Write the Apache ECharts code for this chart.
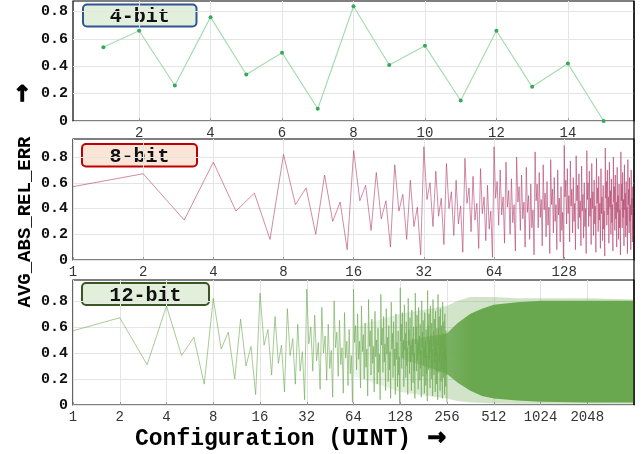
<!DOCTYPE html>
<html><head><meta charset="utf-8">
<script src="https://cdn.jsdelivr.net/npm/echarts@6.0.0/dist/echarts.min.js"></script>
<style>html,body{margin:0;padding:0;background:#fff}#c{width:644px;height:454px}</style>
</head><body><div id="c"></div>
<script>
// ---- data ----
const yTicks = [0, 0.2, 0.4, 0.6, 0.8];
const x4Ticks = [2, 4, 6, 8, 10, 12, 14];
const x8Ticks = [1, 2, 4, 8, 16, 32, 64, 128];
const x12Ticks = [1, 2, 4, 8, 16, 32, 64, 128, 256, 512, 1024, 2048];
const panelNames = ['4-bit', '8-bit', '12-bit'];

const err4 = [0.54,0.66,0.26,0.76,0.34,0.50,0.09,0.84,0.41,0.55,0.15,0.66,0.25,0.42,0.00];

const err8 = [
0.57,0.67,0.31,0.76,0.38,0.52,0.16,0.82,0.43,0.56,0.20,0.66,0.30,0.45,0.08,0.85,
0.46,0.58,0.23,0.68,0.32,0.46,0.10,0.74,0.38,0.51,0.16,0.62,0.26,0.41,0.04,0.88,
0.47,0.60,0.26,0.69,0.34,0.48,0.12,0.75,0.40,0.53,0.19,0.62,0.28,0.42,0.06,0.79,
0.44,0.56,0.22,0.65,0.31,0.44,0.09,0.71,0.36,0.49,0.15,0.58,0.24,0.38,0.02,0.88,
0.48,0.61,0.27,0.70,0.35,0.49,0.13,0.76,0.41,0.54,0.20,0.63,0.29,0.43,0.07,0.80,
0.45,0.57,0.23,0.66,0.32,0.45,0.10,0.72,0.37,0.50,0.16,0.59,0.25,0.39,0.04,0.84,
0.46,0.59,0.25,0.68,0.33,0.47,0.11,0.74,0.39,0.52,0.18,0.61,0.27,0.41,0.05,0.78,
0.43,0.55,0.21,0.64,0.30,0.43,0.08,0.70,0.35,0.48,0.14,0.57,0.23,0.37,0.01,0.89,
0.49,0.62,0.28,0.71,0.36,0.50,0.14,0.77,0.42,0.55,0.21,0.64,0.30,0.44,0.08,0.81,
0.46,0.58,0.24,0.67,0.33,0.46,0.11,0.73,0.38,0.51,0.17,0.60,0.26,0.40,0.05,0.85,
0.47,0.60,0.26,0.69,0.34,0.48,0.12,0.75,0.40,0.53,0.19,0.62,0.28,0.42,0.06,0.79,
0.44,0.56,0.22,0.65,0.31,0.44,0.09,0.71,0.36,0.49,0.15,0.58,0.24,0.38,0.03,0.87,
0.48,0.61,0.27,0.70,0.35,0.49,0.13,0.76,0.41,0.54,0.20,0.63,0.29,0.43,0.07,0.80,
0.45,0.57,0.23,0.66,0.32,0.45,0.10,0.72,0.37,0.50,0.16,0.59,0.25,0.39,0.04,0.84,
0.46,0.59,0.25,0.68,0.33,0.47,0.11,0.74,0.39,0.52,0.18,0.61,0.27,0.41,0.05,0.78,
0.43,0.55,0.21,0.64,0.30,0.43,0.08,0.70,0.35,0.48,0.14,0.57,0.23,0.37,0.00];

const err12 = [
0.57,0.67,0.31,0.76,0.38,0.52,0.16,0.82,0.43,0.56,0.20,0.66,0.30,0.45,0.08,0.86,
0.46,0.58,0.23,0.68,0.32,0.46,0.10,0.74,0.38,0.51,0.16,0.62,0.26,0.41,0.04,0.89,
0.47,0.60,0.26,0.69,0.34,0.48,0.12,0.75,0.40,0.53,0.19,0.62,0.28,0.42,0.06,0.80,
0.44,0.56,0.22,0.65,0.31,0.44,0.09,0.71,0.36,0.49,0.15,0.58,0.24,0.38,0.02,0.89,
0.48,0.61,0.27,0.70,0.35,0.49,0.13,0.76,0.41,0.54,0.20,0.63,0.29,0.43,0.07,0.81,
0.45,0.57,0.23,0.66,0.32,0.45,0.10,0.72,0.37,0.50,0.16,0.59,0.25,0.39,0.04,0.85,
0.46,0.59,0.25,0.68,0.33,0.47,0.11,0.74,0.39,0.52,0.18,0.61,0.27,0.41,0.05,0.79,
0.43,0.55,0.21,0.64,0.30,0.43,0.08,0.70,0.35,0.48,0.14,0.57,0.23,0.37,0.01,0.90,
0.49,0.62,0.28,0.71,0.36,0.50,0.14,0.77,0.42,0.55,0.21,0.64,0.30,0.44,0.08,0.82,
0.46,0.58,0.24,0.67,0.33,0.46,0.11,0.73,0.38,0.51,0.17,0.60,0.26,0.40,0.05,0.86,
0.47,0.60,0.26,0.69,0.34,0.48,0.12,0.75,0.40,0.53,0.19,0.62,0.28,0.42,0.06,0.80,
0.44,0.56,0.22,0.65,0.31,0.44,0.09,0.71,0.36,0.49,0.15,0.58,0.24,0.38,0.03,0.88,
0.48,0.61,0.27,0.70,0.35,0.49,0.13,0.76,0.41,0.54,0.20,0.63,0.29,0.43,0.07,0.81,
0.45,0.57,0.23,0.66,0.32,0.45,0.10,0.72,0.37,0.50,0.16,0.59,0.25,0.39,0.04,0.85,
0.46,0.59,0.25,0.68,0.33,0.47,0.11,0.74,0.39,0.52,0.18,0.61,0.27,0.41,0.05,0.79,
0.43,0.55,0.21,0.64,0.30,0.43,0.08,0.70,0.35,0.48,0.14,0.57,0.23,0.37,0.02];

// 12-bit dense region (too dense to read point by point): envelopes
const band12OuterX  = [64, 128, 255, 300, 362, 430, 512, 724, 1024, 2048, 4095];
const band12OuterLo = [0.22, 0.10, 0.05, 0.03, 0.02, 0.015, 0.012, 0.01, 0.01, 0.01, 0.01];
const band12OuterHi = [0.60, 0.70, 0.76, 0.80, 0.83, 0.83, 0.83, 0.82, 0.82, 0.82, 0.81];
const band12CoreX  = [128, 181, 255, 300, 362, 430, 512, 724, 1024, 2048, 4095];
const band12CoreLo = [0.36, 0.30, 0.24, 0.17, 0.11, 0.07, 0.05, 0.035, 0.025, 0.02, 0.02];
const band12CoreHi = [0.48, 0.52, 0.55, 0.63, 0.70, 0.74, 0.77, 0.79, 0.80, 0.80, 0.80];

// ---- chart ----
const chart = echarts.init(document.getElementById('c'), null, {renderer: 'canvas'});
const MONO = '"Liberation Mono", "Courier New", monospace';
const gridColor = '#e4e4e4';

function yAxis(idx, max) {
  return {
    type: 'value', gridIndex: idx, min: 0, max: max,
    minInterval: 0.2, maxInterval: 0.2,
    axisLine: {show: false},
    axisTick: {show: false, customValues: yTicks},
    splitLine: {show: true, lineStyle: {color: gridColor, width: 1}},
    axisLabel: {
      customValues: yTicks, margin: 5,
      fontFamily: MONO, fontWeight: 'bold', fontSize: 15, color: '#111',
      formatter: v => (v === 0 ? '0' : v.toFixed(1))
    }
  };
}
function xAxisCommon(idx, ticks) {
  return {
    gridIndex: idx,
    axisLine: {show: false},
    axisTick: {show: true, inside: true, length: 3, customValues: ticks, lineStyle: {color: '#999'}},
    splitLine: {show: true, lineStyle: {color: gridColor, width: 1}},
    axisLabel: {
      customValues: ticks, margin: 5,
      fontFamily: MONO, fontSize: 14, color: '#333',
      formatter: v => String(Math.round(v))
    }
  };
}

function bandSeries(xs, lo, hi, fill, z) {
  const pts = xs.map((x, i) => [x, lo[i], hi[i]]);
  return {
    type: 'custom', xAxisIndex: 2, yAxisIndex: 2, silent: true, z: z,
    data: pts, encode: {x: 0, y: [1, 2]},
    renderItem: function (params, api) {
      if (params.dataIndex !== 0) return null;
      const top = pts.map(p => api.coord([p[0], p[2]]));
      const bot = pts.slice().reverse().map(p => api.coord([p[0], p[1]]));
      return {type: 'polygon', shape: {points: top.concat(bot)}, style: {fill: fill}};
    }
  };
}

function badge(x, y, w, h, stroke, fill, text) {
  return {
    type: 'group', z: 100,
    children: [
      {type: 'rect', shape: {x: x, y: y, width: w, height: h, r: 4},
       style: {fill: fill, stroke: stroke, lineWidth: 2}},
      {type: 'text', x: x + w / 2, y: y + h / 2 + 1.5,
       style: {text: text, font: 'bold 20px ' + MONO, fill: '#111',
               align: 'center', verticalAlign: 'middle', textAlign: 'center', textVerticalAlign: 'middle'}}
    ]
  };
}

const gridBase = {show: true, borderColor: '#000', borderWidth: 1.2, backgroundColor: 'rgba(0,0,0,0)', containLabel: false};
const arrowStyle = {text: '\u2192', font: 'bold 22px "DejaVu Sans"', fill: '#000', stroke: '#000', lineWidth: 1.3,
  align: 'center', verticalAlign: 'middle', textAlign: 'center', textVerticalAlign: 'middle'};

const outerFill = new echarts.graphic.LinearGradient(0, 0, 1, 0, [
  {offset: 0, color: 'rgba(106,168,79,0.10)'},
  {offset: 0.35, color: 'rgba(106,168,79,0.30)'},
  {offset: 1, color: 'rgba(106,168,79,0.35)'}
]);
const coreFill = new echarts.graphic.LinearGradient(0, 0, 1, 0, [
  {offset: 0, color: 'rgba(106,168,79,0.20)'},
  {offset: 0.2, color: 'rgba(106,168,79,0.85)'},
  {offset: 0.3, color: 'rgba(106,168,79,1)'},
  {offset: 1, color: 'rgba(106,168,79,1)'}
]);

const option = {
  animation: false,
  grid: [
    Object.assign({left: 73, top: 1, width: 561, height: 120}, gridBase),
    Object.assign({left: 73, top: 139, width: 561, height: 121}, gridBase),
    Object.assign({left: 73, top: 280, width: 561, height: 125}, gridBase)
  ],
  xAxis: [
    Object.assign(xAxisCommon(0, x4Ticks), {type: 'value', min: 0.15, max: 15.85, minInterval: 2, maxInterval: 2}),
    Object.assign(xAxisCommon(1, x8Ticks), {type: 'log', logBase: 2, min: 1, max: 255}),
    Object.assign(xAxisCommon(2, x12Ticks), {type: 'log', logBase: 2, min: 1, max: 4095})
  ],
  yAxis: [yAxis(0, 0.878), yAxis(1, 0.94), yAxis(2, 0.96)],
  series: [
    {
      name: panelNames[0], type: 'line', xAxisIndex: 0, yAxisIndex: 0,
      data: err4.map((v, i) => [i + 1, v]),
      symbol: 'circle', symbolSize: 4, showSymbol: true,
      lineStyle: {color: '#a6dcb2', width: 1.2},
      itemStyle: {color: '#36a85a'}, z: 3
    },
    {
      name: panelNames[1], type: 'line', xAxisIndex: 1, yAxisIndex: 1,
      data: err8.map((v, i) => [i + 1, v]),
      symbol: 'none', lineStyle: {color: '#b4466f', width: 0.9, opacity: 0.7}, z: 3
    },
    bandSeries(band12OuterX, band12OuterLo, band12OuterHi, outerFill, 2),
    bandSeries(band12CoreX, band12CoreLo, band12CoreHi, coreFill, 2),
    {
      name: panelNames[2], type: 'line', xAxisIndex: 2, yAxisIndex: 2,
      data: err12.map((v, i) => [i + 1, v]),
      symbol: 'none', lineStyle: {color: '#6aa84f', width: 1, opacity: 0.6}, z: 3
    }
  ],
  graphic: [
    {type: 'line', shape: {x1: 634, y1: 1, x2: 634, y2: 405}, style: {stroke: '#000', lineWidth: 1.2}, z: 50},
    badge(83, 4.5, 113.5, 22, '#2f5597', '#e2efda', panelNames[0]),
    badge(82, 144, 115, 22.5, '#c00000', '#fbe5d6', panelNames[1]),
    badge(82, 283, 127, 22, '#385723', '#e2efda', panelNames[2]),
    {type: 'text', x: 25, y: 222, rotation: Math.PI / 2, z: 100,
     style: {text: 'AVG_ABS_REL_ERR', font: 'bold 19px ' + MONO, fill: '#000',
             align: 'center', verticalAlign: 'middle', textAlign: 'center', textVerticalAlign: 'middle'}},
    {type: 'text', x: 23, y: 93, rotation: Math.PI / 2, z: 100, style: arrowStyle},
    {type: 'text', x: 135, y: 439, z: 100,
     style: {text: 'Configuration (UINT)', font: 'bold 23px ' + MONO, fill: '#000',
             align: 'left', verticalAlign: 'middle', textAlign: 'left', textVerticalAlign: 'middle'}},
    {type: 'text', x: 437, y: 438, z: 100, style: arrowStyle}
  ]
};
chart.setOption(option);
</script></body></html>
